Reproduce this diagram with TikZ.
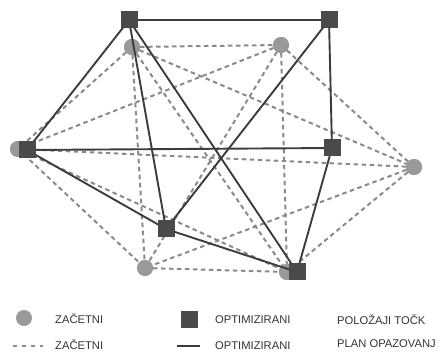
\documentclass[tikz,border=0pt]{standalone}
\usepackage{fontspec}
\setmainfont{Liberation Sans}
\definecolor{dashc}{HTML}{8A8A8A}
\definecolor{circc}{HTML}{999999}
\definecolor{solidc}{HTML}{3C3C3C}
\definecolor{sqc}{HTML}{4A4A4A}
\definecolor{txtc}{HTML}{333333}
\begin{document}
\begin{tikzpicture}[x=1pt,y=-1pt,
  init/.style={circle,fill=circc,minimum size=16pt,inner sep=0pt},
  opt/.style={rectangle,fill=sqc,minimum size=17pt,inner sep=0pt},
  plan0/.style={draw=dashc,line width=2pt,dash pattern=on 4.5pt off 3.5pt},
  plan1/.style={draw=solidc,line width=1.9pt},
  lbl/.style={anchor=west,text=txtc,font=\fontsize{11.2}{13}\selectfont,inner sep=0pt}]
\useasboundingbox (0,0) rectangle (439,352);
% initial points
\node[init] (c1) at (132,47) {};
\node[init] (c2) at (281,45) {};
\node[init] (c3) at (18,149) {};
\node[init] (c4) at (414,167) {};
\node[init] (c5) at (145,268) {};
\node[init] (c6) at (287,272) {};
% dashed initial plan (all pairs)
\foreach \a/\b in {c1/c2,c1/c3,c1/c4,c1/c5,c1/c6,c2/c3,c2/c4,c2/c5,c2/c6,c3/c4,c3/c5,c3/c6,c4/c5,c4/c6,c5/c6}
  \draw[plan0] (\a.center) -- (\b.center);
% circles on top of the dashed lines
\foreach \p in {(132,47),(281,45),(18,149),(414,167),(145,268),(287,272)}
  \fill[circc] \p circle (8pt);
% optimized points
\coordinate (s1) at (129,20);
\coordinate (s2) at (329,20);
\coordinate (s3) at (27,150);
\coordinate (s4) at (332,148);
\coordinate (s5) at (166,229);
\coordinate (s6) at (297,272);
\foreach \a/\b in {s1/s2,s1/s3,s1/s5,s1/s6,s2/s4,s2/s5,s3/s4,s3/s5,s5/s6,s4/s6}
  \draw[plan1] (\a) -- (\b);
\node[opt] (q1) at (s1) {};
\node[opt] (q2) at (s2) {};
\node[opt] (q3) at (s3) {};
\node[opt] (q4) at (s4) {};
\node[opt] (q5) at (s5) {};
\node[opt] (q6) at (s6) {};
% legend
\node[init] (lc) at (24,318) {};
\node[lbl] (l1) at (55,319) {ZAČETNI};
\node[opt] (ls) at (189,320) {};
\node[lbl] (l2) at (215,320) {OPTIMIZIRANI};
\node[lbl] (l3) at (337,320) {POLOŽAJI TOČK};
\coordinate (ld1) at (13,346);
\coordinate (ld2) at (43,346);
\draw[draw=dashc,line width=2pt,dash pattern=on 4pt off 5pt] (ld1) -- (ld2);
\node[lbl] (l4) at (55,345) {ZAČETNI};
\coordinate (lp1) at (177,346);
\coordinate (lp2) at (200,346);
\draw[plan1] (lp1) -- (lp2);
\node[lbl] (l5) at (215,346) {OPTIMIZIRANI};
\node[lbl] (l6) at (337,344) {PLAN OPAZOVANJ};
\end{tikzpicture}
\end{document}
